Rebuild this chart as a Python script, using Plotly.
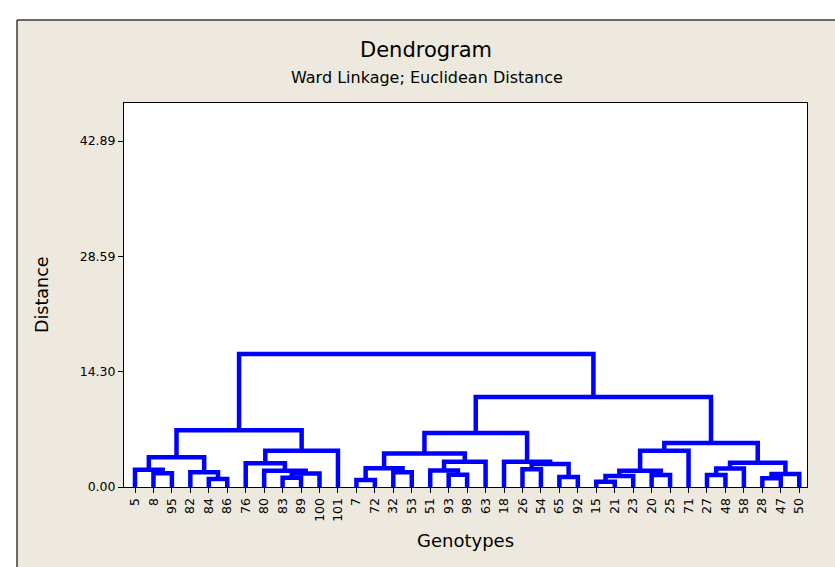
import plotly.graph_objects as go

# ---- data ----
leaf_labels = ["5", "8", "95", "82", "84", "86", "76", "80", "83", "89", "100", "101",
               "7", "72", "32", "53", "51", "93", "98", "63", "18", "26", "54", "65", "92",
               "15", "21", "23", "20", "25", "71", "27", "48", "58", "28", "47", "50"]

merge_names = ["c1", "c2", "c3", "c4", "c5", "c6", "c7", "c8", "c9", "c10", "c11",
               "c12", "c13", "c14", "c15", "c16", "c17", "c18", "c19", "c20", "c21", "c22", "c23",
               "c24", "c25", "c26", "c27", "c28", "c29", "c30", "c31", "c32", "c33", "c34", "c35", "c36"]
merge_left = ["8", "5", "84", "82", "c2", "83", "c6", "80", "76", "c9", "c5",
              "7", "32", "c12", "93", "51", "c16", "c14", "26", "65", "c19", "18", "c18",
              "15", "c24", "20", "c25", "c27", "27", "c29", "28", "c31", "c30", "c28", "c23", "c11"]
merge_right = ["95", "c1", "86", "c3", "c4", "89", "100", "c7", "c8", "101", "c10",
               "72", "53", "c13", "98", "c15", "63", "c17", "54", "92", "c20", "c21", "c22",
               "21", "23", "25", "c26", "71", "48", "58", "47", "50", "c32", "c33", "c34", "c35"]
merge_height = [1.70, 2.15, 1.00, 1.82, 3.68, 1.15, 1.68, 2.00, 2.94, 4.50, 7.02,
                0.87, 1.82, 2.32, 1.52, 2.05, 3.14, 4.15, 2.20, 1.24, 2.85, 3.14, 6.70,
                0.66, 1.36, 1.49, 2.02, 4.50, 1.49, 2.30, 1.10, 1.60, 3.00, 5.45, 11.16, 16.50]

ytick_values = [0.0, 14.2967, 28.5933, 42.89]
ytick_labels = ["0.00", "14.30", "28.59", "42.89"]

# ---- build dendrogram segments from the merge table ----
pos = {lab: i for i, lab in enumerate(leaf_labels)}
hgt = {lab: 0.0 for lab in leaf_labels}
xs, ys = [], []
for name, a, b, h in zip(merge_names, merge_left, merge_right, merge_height):
    xa, ya = pos[a], hgt[a]
    xb, yb = pos[b], hgt[b]
    xs += [xa, xa, xb, xb, None]
    ys += [ya, h, h, yb, None]
    pos[name] = (xa + xb) / 2
    hgt[name] = h

FONT = "DejaVu Sans"
BEIGE = "#EDE9DE"

fig = go.Figure()
fig.add_trace(go.Scatter(x=xs, y=ys, mode="lines",
                         line=dict(color="#0000FF", width=4.5),
                         hoverinfo="skip", showlegend=False))

W, H = 835, 567
L, R, T, B = 124, 807, 103, 487
pw, ph = R - L, B - T

def px(x):
    return (x - L) / pw

def py(y):
    return (B - y) / ph

fig.update_layout(
    width=W, height=H,
    margin=dict(l=L, r=W - R, t=T, b=H - B, pad=0),
    paper_bgcolor=BEIGE,
    plot_bgcolor="white",
    font=dict(family=FONT, color="black"),
    showlegend=False,
    xaxis=dict(
        range=[-0.596, 36.42],
        tickvals=list(range(len(leaf_labels))),
        ticktext=leaf_labels,
        tickangle=-90,
        ticks="outside", ticklen=5, tickcolor="black", tickwidth=1,
        tickfont=dict(size=12.5, family=FONT, color="black"),
        showgrid=False, zeroline=False,
        showline=True, linecolor="black", linewidth=1, mirror=True,
    ),
    yaxis=dict(
        range=[0, 47.6],
        tickvals=ytick_values,
        ticktext=ytick_labels,
        ticks="outside", ticklen=5, tickcolor="black", tickwidth=1,
        tickfont=dict(size=12.5, family=FONT, color="black"),
        showgrid=False, zeroline=False,
        showline=True, linecolor="black", linewidth=1, mirror=True,
    ),
)

annotations = [
    dict(text="Dendrogram", x=px(426), y=py(50), xref="paper", yref="paper",
         showarrow=False, font=dict(size=21, family=FONT, color="black"),
         xanchor="center", yanchor="middle"),
    dict(text="Ward Linkage; Euclidean Distance", x=px(427), y=py(78), xref="paper", yref="paper",
         showarrow=False, font=dict(size=16, family=FONT, color="black"),
         xanchor="center", yanchor="middle"),
    dict(text="Genotypes", x=0.5, y=py(540), xref="paper", yref="paper",
         showarrow=False, font=dict(size=18, family=FONT, color="black"),
         xanchor="center", yanchor="middle"),
    dict(text="Distance", x=px(42), y=0.5, xref="paper", yref="paper", textangle=-90,
         showarrow=False, font=dict(size=17.5, family=FONT, color="black"),
         xanchor="center", yanchor="middle"),
]
fig.update_layout(annotations=annotations)

shapes = [
    # white strip above panel
    dict(type="rect", xref="paper", yref="paper", x0=px(-5), x1=px(W + 5), y0=py(20), y1=py(-5),
         fillcolor="white", line=dict(width=0), layer="above"),
    # white strip left of panel
    dict(type="rect", xref="paper", yref="paper", x0=px(-5), x1=px(17), y0=py(H + 5), y1=py(-5),
         fillcolor="white", line=dict(width=0), layer="above"),
    # panel borders
    dict(type="line", xref="paper", yref="paper", x0=px(17), x1=px(W + 5), y0=py(20), y1=py(20),
         line=dict(color="#3a3a3a", width=1.5), layer="above"),
    dict(type="line", xref="paper", yref="paper", x0=px(17), x1=px(17), y0=py(20), y1=py(H + 5),
         line=dict(color="#3a3a3a", width=1.5), layer="above"),
]
fig.update_layout(shapes=shapes)

fig.write_html("out.html",
               config={"displayModeBar": False},
               post_script="document.body.style.margin='0';document.body.style.overflow='hidden';")
